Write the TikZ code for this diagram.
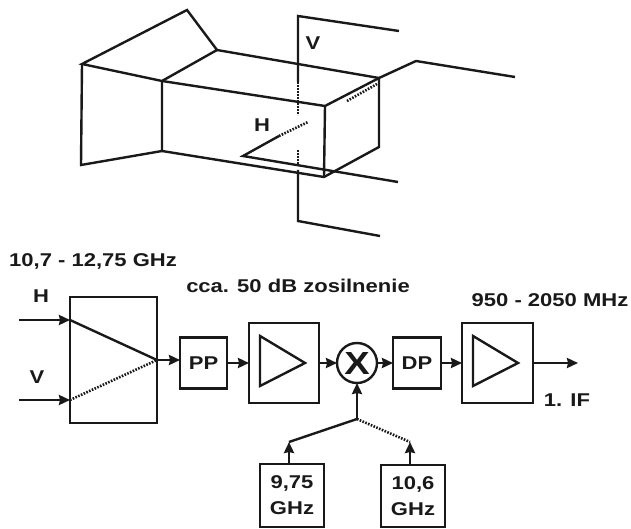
\documentclass[tikz,border=0pt]{standalone}
\usepackage{fontspec}
\setmainfont{Liberation Sans}[FakeStretch=1.19]
\usetikzlibrary{arrows.meta,positioning}

\begin{document}
\begin{tikzpicture}[
    x=1pt, y=-1pt,
    >={Stealth[length=11pt,width=10pt,inset=1pt]},
    line width=2.4pt,
    color=black!90,
    box/.style={draw, line width=2.8pt, inner sep=0pt, outer sep=0pt, minimum width=#1},
    box/.default=47pt,
    arr/.style={->, line width=2.8pt},
    dots/.style={line width=2.6pt, dash pattern=on 1.6pt off 1.4pt},
    lbl/.style={font=\fontsize{18.5}{26}\selectfont\bfseries, inner sep=0pt, outer sep=0pt, align=center},
  ]
  \useasboundingbox (0,0) rectangle (631,529);

  % horn and waveguide
  \draw (82,64) -- (187,10) -- (217,50) -- (162,81) -- cycle;
  \draw (82,64) -- (81,165) -- (162,151) -- (162,81);
  \draw (217,50) -- (379,78) -- (379,147) -- (324,177) -- (162,151);
  \draw (162,81) -- (325,106) -- (379,78);
  \draw (325,106) -- (324,177);
  \draw (379,78) -- (416,61) -- (515,77);
  \draw[dots] (347,101) -- (377,84);

  % probes
  \draw (399,31) -- (298,16) -- (298,82);
  \draw[dots] (298,82) -- (298,115);
  \draw[dots] (298,150) -- (298,165);
  \draw (298,170) -- (298,221) -- (380,236);
  \draw (279,136) -- (243,156) -- (398,182);
  \draw[dots] (279,136) -- (308,122);
  \node[lbl] (vprobe) at (313,43) {V};
  \node[lbl] (hprobe) at (262,125) {H};

  % receiver chain
  \node[box=87pt, minimum height=126pt] (split) at (113.5,360) {};
  \node[box, minimum height=51pt, lbl, right=23pt of split, yshift=-3pt] (pp) {PP};
  \node[box=70pt, minimum height=80pt, right=22pt of pp] (ampa) {};
  \node[draw, circle, minimum size=40pt, right=18pt of ampa,
        lbl, font=\fontsize{32}{32}\selectfont\bfseries] (mix) {X};
  \node[box=48pt, minimum height=51pt, lbl, right=16pt of mix] (dp) {DP};
  \node[box=71pt, minimum height=80pt, right=21pt of dp] (ampb) {};
  \foreach \amp in {ampa,ampb} {
    \draw ([shift={(11pt,-23pt)}]\amp.west) -- ([shift={(56pt,0pt)}]\amp.west)
      -- ([shift={(11pt,27pt)}]\amp.west) -- cycle;
  }

  % oscillators
  \node[box=64pt, minimum height=63pt, lbl] (loa) at (292,495.5) {9,75\\GHz};
  \node[box=64pt, minimum height=62pt, lbl] (lob) at (413,496) {10,6\\GHz};
  \coordinate[below=36pt of mix] (sw);
  \coordinate (swa) at ([xshift=-3pt,yshift=22pt]loa.north);
  \coordinate (swb) at ([xshift=-3pt,yshift=23pt]lob.north);

  % inputs and outputs
  \coordinate (hin) at (19,320);
  \coordinate (vin) at (19,400);
  \coordinate (if) at (578,363);
  \draw[arr] (hin) -- (hin -| split.west);
  \draw[arr] (vin) -- (vin -| split.west);
  \draw (hin -| split.west) -- (split.east);
  \draw[dots] (vin -| split.west) -- (split.east);
  \draw[arr] (split.east) -- (split.east -| pp.west);
  \draw[arr] (pp) -- (ampa);
  \draw[arr] (ampa) -- (mix);
  \draw[arr] (mix) -- (dp);
  \draw[arr] (dp) -- (ampb);
  \draw[arr] (ampb) -- (if);
  \draw[arr] (sw) -- (mix);
  \draw[arr] ([xshift=-3pt]loa.north) -- (swa);
  \draw[arr] ([xshift=-3pt]lob.north) -- (swb);
  \draw (sw) -- (swa);
  \draw[dots] (sw) -- (swb);

  % text labels
  \node[lbl] (hlbl) at (41,296) {H};
  \node[lbl] (vlbl) at (37,377) {V};
  \node[lbl] (band) at (93,261) {10,7 - 12,75 GHz};
  \node[lbl] (gain) at (298,286) {cca. 50 dB zosilnenie};
  \node[lbl] (ifband) at (550,300) {950 - 2050 MHz};
  \node[lbl] (iflbl) at (567,400) {1. IF};
\end{tikzpicture}
\end{document}
